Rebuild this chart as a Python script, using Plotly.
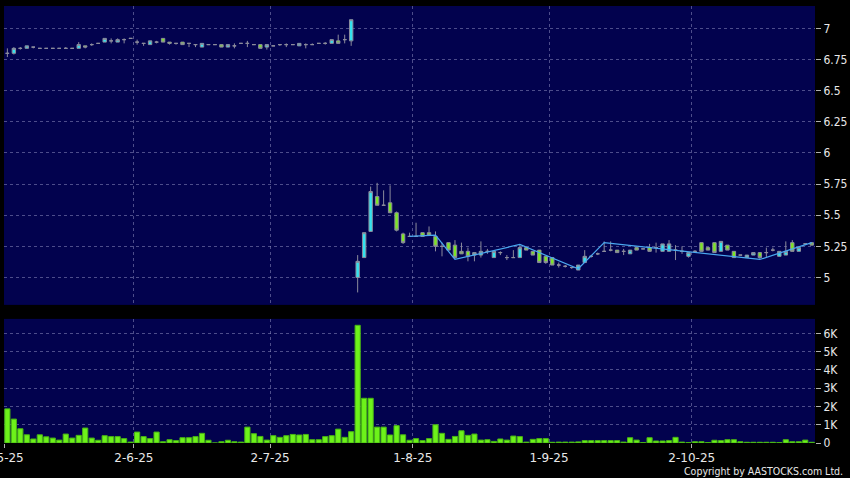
"""Daily candles + volume, AASTOCKS-style dark chart (May-Oct 2025)."""
import plotly.graph_objects as go

# trading-day index 0 = 2-5-25 ... 124 = 28-10-25
tick_days = [0, 20, 41, 63, 84, 106]
tick_text = ['2-5-25', '2-6-25', '2-7-25', '1-8-25', '1-9-25', '2-10-25']

open_ = [
    6.80, 6.80, 6.84, 6.84, 6.85, 6.84, 6.84, 6.84, 6.84, 6.84,
    6.84, 6.84, 6.86, 6.87, 6.88, 6.89, 6.90, 6.89, 6.91, 6.92,
    6.89, 6.88, 6.87, 6.89, 6.92, 6.89, 6.88, 6.89, 6.88, 6.87,
    6.85, 6.87, 6.87, 6.87, 6.85, 6.86, 6.88, 6.88, 6.87, 6.87,
    6.85, 6.86, 6.87, 6.87, 6.87, 6.86, 6.87, 6.87, 6.88, 6.88,
    6.88, 6.90, 6.91, 6.90, 5.00, 5.16, 5.37, 5.65, 5.58, 5.60,
    5.52, 5.35, 5.33, 5.33, 5.36, 5.36, 5.33, 5.25, 5.28, 5.26,
    5.21, 5.21, 5.18, 5.18, 5.21, 5.16, 5.20, 5.16, 5.16, 5.16,
    5.24, 5.21, 5.22, 5.17, 5.16, 5.10, 5.09, 5.08, 5.06, 5.12,
    5.17, 5.19, 5.21, 5.22, 5.22, 5.21, 5.19, 5.24, 5.23, 5.24,
    5.24, 5.21, 5.21, 5.22, 5.21, 5.17, 5.21, 5.28, 5.24, 5.28,
    5.21, 5.26, 5.21, 5.18, 5.16, 5.18, 5.20, 5.20, 5.22, 5.17,
    5.18, 5.28, 5.21, 5.27, 5.28,
]
high = [
    6.84, 6.85, 6.85, 6.86, 6.85, 6.84, 6.84, 6.84, 6.84, 6.85,
    6.84, 6.89, 6.86, 6.88, 6.88, 6.92, 6.92, 6.92, 6.92, 6.92,
    6.91, 6.88, 6.90, 6.90, 6.92, 6.89, 6.88, 6.89, 6.88, 6.87,
    6.88, 6.87, 6.87, 6.87, 6.87, 6.88, 6.88, 6.90, 6.87, 6.87,
    6.87, 6.86, 6.87, 6.88, 6.87, 6.88, 6.88, 6.88, 6.88, 6.89,
    6.91, 6.95, 6.95, 7.07, 5.18, 5.36, 5.73, 5.76, 5.70, 5.74,
    5.53, 5.36, 5.36, 5.44, 5.36, 5.41, 5.37, 5.28, 5.28, 5.30,
    5.28, 5.24, 5.20, 5.29, 5.23, 5.21, 5.21, 5.18, 5.22, 5.26,
    5.24, 5.21, 5.22, 5.17, 5.16, 5.12, 5.10, 5.08, 5.10, 5.22,
    5.18, 5.20, 5.29, 5.29, 5.22, 5.23, 5.22, 5.24, 5.23, 5.27,
    5.28, 5.27, 5.30, 5.26, 5.25, 5.20, 5.22, 5.28, 5.24, 5.28,
    5.29, 5.26, 5.21, 5.18, 5.18, 5.20, 5.20, 5.24, 5.24, 5.21,
    5.29, 5.30, 5.24, 5.27, 5.28,
]
low = [
    6.77, 6.79, 6.83, 6.84, 6.84, 6.84, 6.84, 6.84, 6.84, 6.84,
    6.84, 6.84, 6.84, 6.86, 6.88, 6.89, 6.88, 6.89, 6.88, 6.92,
    6.87, 6.86, 6.87, 6.88, 6.89, 6.87, 6.87, 6.87, 6.85, 6.85,
    6.85, 6.87, 6.87, 6.85, 6.85, 6.84, 6.88, 6.85, 6.87, 6.84,
    6.83, 6.86, 6.86, 6.85, 6.87, 6.86, 6.84, 6.87, 6.88, 6.87,
    6.88, 6.88, 6.88, 6.86, 4.88, 5.16, 5.37, 5.58, 5.58, 5.52,
    5.37, 5.27, 5.33, 5.33, 5.33, 5.34, 5.21, 5.17, 5.22, 5.15,
    5.19, 5.13, 5.13, 5.16, 5.19, 5.16, 5.18, 5.14, 5.16, 5.16,
    5.22, 5.18, 5.12, 5.11, 5.10, 5.08, 5.08, 5.07, 5.06, 5.12,
    5.16, 5.18, 5.21, 5.21, 5.20, 5.18, 5.19, 5.22, 5.23, 5.21,
    5.20, 5.21, 5.21, 5.14, 5.19, 5.16, 5.21, 5.21, 5.22, 5.20,
    5.21, 5.22, 5.16, 5.18, 5.16, 5.18, 5.15, 5.16, 5.21, 5.17,
    5.18, 5.21, 5.21, 5.26, 5.26,
]
close = [
    6.80, 6.84, 6.84, 6.86, 6.85, 6.84, 6.84, 6.84, 6.84, 6.84,
    6.84, 6.87, 6.85, 6.87, 6.88, 6.92, 6.90, 6.91, 6.91, 6.92,
    6.89, 6.88, 6.90, 6.89, 6.89, 6.88, 6.88, 6.87, 6.88, 6.87,
    6.88, 6.87, 6.87, 6.85, 6.87, 6.86, 6.88, 6.88, 6.87, 6.84,
    6.87, 6.86, 6.87, 6.87, 6.87, 6.88, 6.87, 6.87, 6.88, 6.88,
    6.91, 6.88, 6.91, 7.07, 5.13, 5.36, 5.69, 5.58, 5.58, 5.52,
    5.38, 5.28, 5.33, 5.33, 5.33, 5.34, 5.25, 5.25, 5.22, 5.16,
    5.19, 5.17, 5.20, 5.21, 5.21, 5.21, 5.20, 5.16, 5.16, 5.24,
    5.22, 5.18, 5.12, 5.12, 5.10, 5.10, 5.09, 5.08, 5.10, 5.17,
    5.17, 5.19, 5.21, 5.22, 5.20, 5.21, 5.22, 5.22, 5.23, 5.21,
    5.24, 5.27, 5.27, 5.22, 5.21, 5.20, 5.21, 5.21, 5.22, 5.20,
    5.29, 5.22, 5.16, 5.18, 5.18, 5.20, 5.16, 5.20, 5.22, 5.21,
    5.21, 5.21, 5.24, 5.27, 5.26,
]
volume = [
    1870, 1310, 780, 450, 220, 450, 340, 270, 160, 490,
    270, 420, 820, 270, 150, 400, 350, 350, 240, 50,
    600, 350, 240, 600, 70, 180, 130, 290, 290, 350,
    530, 150, 0, 70, 150, 70, 50, 870, 510, 360,
    160, 400, 310, 400, 470, 440, 470, 180, 180, 350,
    400, 760, 310, 620, 6450, 2450, 2450, 870, 870, 440,
    950, 450, 150, 240, 130, 240, 1000, 530, 200, 360,
    670, 420, 490, 160, 180, 90, 220, 160, 380, 350,
    50, 200, 240, 240, 40, 50, 50, 50, 60, 130,
    130, 130, 130, 130, 130, 50, 290, 160, 20, 290,
    110, 110, 130, 310, 50, 20, 70, 70, 20, 150,
    130, 180, 180, 70, 40, 40, 40, 40, 40, 20,
    180, 70, 70, 160, 40,
]

# zig-zag trend line drawn over the second half
trend_days = [62, 66, 69, 79, 88, 92, 116, 124]
trend_px = [5.33, 5.34, 5.145, 5.265, 5.07, 5.28, 5.145, 5.28]

price_ticks = [5, 5.25, 5.5, 5.75, 6, 6.25, 6.5, 6.75, 7]
vol_ticks = [0, 1000, 2000, 3000, 4000, 5000, 6000]
vol_text = ['0', '1K', '2K', '3K', '4K', '5K', '6K']

CYAN = '#33e3f0'
LIME = '#7de624'
WICK = '#8c8c9c'
NAVY = '#02024e'
GRID = 'rgba(140,140,190,0.55)'
TXT = '#e8e8e8'
NARROW = 'DejaVu Sans Condensed, DejaVu Sans, sans-serif'
WIDE = 'DejaVu Sans, sans-serif'

days = list(range(len(close)))
grid_x = [d - 0.5 for d in tick_days]

fig = go.Figure()
fig.add_trace(go.Candlestick(
    x=days, open=open_, high=high, low=low, close=close,
    increasing=dict(line=dict(color=WICK, width=1), fillcolor=CYAN),
    decreasing=dict(line=dict(color=WICK, width=1), fillcolor=LIME),
    xaxis='x', yaxis='y', hoverinfo='skip', showlegend=False))
fig.add_trace(go.Scatter(
    x=trend_days, y=trend_px, mode='lines',
    line=dict(color='#4aa8f0', width=1.2),
    xaxis='x', yaxis='y', hoverinfo='skip', showlegend=False))
fig.add_trace(go.Bar(
    x=days, y=volume, width=0.8,
    marker=dict(color='#6df21a', line=dict(color='#48b414', width=1)),
    xaxis='x2', yaxis='y2', hoverinfo='skip', showlegend=False))

xcommon = dict(range=[-0.52, 124.5], tickvals=grid_x, showgrid=True,
               gridcolor=GRID, griddash='3px,3px', gridwidth=1,
               zeroline=False, showline=False, automargin=False)
ycommon = dict(side='right', showgrid=True, gridcolor=GRID,
               griddash='3px,3px', gridwidth=1, zeroline=False,
               showline=False, ticks='outside', ticklen=5,
               tickcolor='#b0b0b0',
               tickfont=dict(color=TXT, size=12, family=NARROW),
               automargin=False)

fig.update_layout(
    width=850, height=478,
    paper_bgcolor='black', plot_bgcolor=NAVY,
    font=dict(family=NARROW, color=TXT, size=12),
    margin=dict(l=4, r=35, t=6, b=35),
    showlegend=False,
    boxgap=0.25, bargap=0.2,
    xaxis=dict(**xcommon, anchor='y', showticklabels=False, ticks='',
               rangeslider=dict(visible=False)),
    xaxis2=dict(**xcommon, anchor='y2', matches='x', ticktext=tick_text,
                showticklabels=True, ticks='outside', ticklen=4,
                ticklabeloverflow='allow', tickcolor='#b0b0b0',
                tickfont=dict(color=TXT, size=12, family=WIDE)),
    yaxis=dict(**ycommon, domain=[0.316, 1], range=[4.78, 7.18],
               tickvals=price_ticks),
    yaxis2=dict(**ycommon, domain=[0, 0.284], range=[0, 6800],
                tickvals=vol_ticks, ticktext=vol_text),
    annotations=[dict(text='Copyright by AASTOCKS.com Ltd.', xref='paper',
                      yref='paper', x=1.037, y=-0.064, xanchor='right',
                      yanchor='middle', showarrow=False,
                      font=dict(color=TXT, size=10.5, family=NARROW))],
)

# page body has an 8px default margin; drop it so the figure fills the window
fig.write_html('out.html', config={'displayModeBar': False},
               post_script="document.body.style.margin='0';"
                           "document.body.style.background='black';")
